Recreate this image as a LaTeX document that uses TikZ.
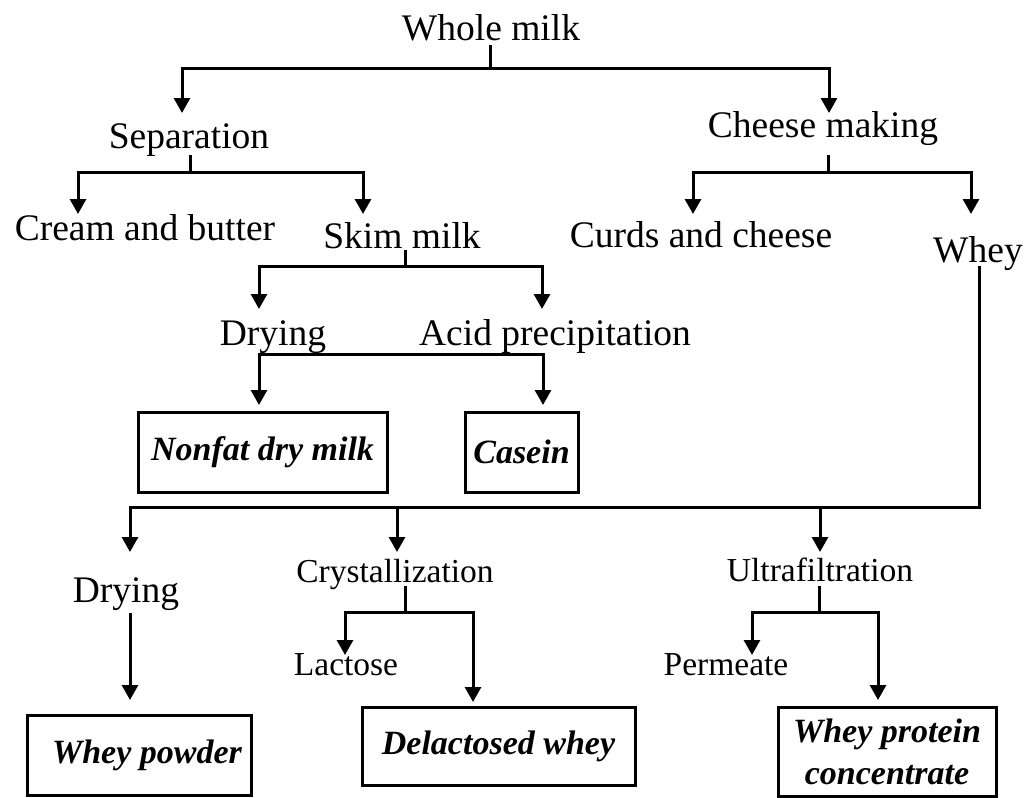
\documentclass[tikz,border=0pt]{standalone}
\usepackage{fontspec}
\setmainfont{Liberation Serif}
\usetikzlibrary{arrows.meta}
\begin{document}
\begin{tikzpicture}[x=1pt,y=-1pt,
  ln/.style={line width=3pt,line join=miter,line cap=rect},
  arr/.style={line width=3pt,-{Triangle[length=15pt,width=16pt]}},
  big/.style={inner sep=0pt,anchor=base,font=\fontsize{37.5}{40}\selectfont},
  small/.style={inner sep=0pt,anchor=base,font=\fontsize{33.5}{36}\selectfont},
  prod/.style={draw,line width=3pt,inner sep=0pt,align=center,
    font=\fontsize{34}{42}\selectfont\bfseries\itshape}]
\useasboundingbox (0,0) rectangle (1034,798);
% text nodes
\node[big] (wm) at (491,40) {Whole milk};
\node[big] (sep) at (189,148) {Separation};
\node[big] (chm) at (823,137) {Cheese making};
\node[big] (crb) at (145,240) {Cream and butter};
\node[big] (skm) at (402,248) {Skim milk};
\node[big] (crd) at (701,247) {Curds and cheese};
\node[big] (why) at (978,262) {Whey};
\node[big] (dry1) at (273,345) {Drying};
\node[big] (acid) at (555,345) {Acid precipitation};
\node[big] (dry2) at (126,602) {Drying};
\node[small] (cry) at (395,582) {Crystallization};
\node[small] (lac) at (346,675) {Lactose};
\node[small] (ult) at (820,581) {Ultrafiltration};
\node[small] (per) at (726,675) {Permeate};
% product boxes
\node[prod,minimum width=249pt,minimum height=80pt] (nfd) at (262.5,452) {Nonfat dry milk};
\node[prod,minimum width=113pt,minimum height=80pt] (cas) at (521.5,452) {Casein};
\node[prod,minimum width=224pt,minimum height=80pt] (wpw) at (139,755) {\hspace*{16pt}Whey powder};
\node[prod,minimum width=273pt,minimum height=78pt] (dlw) at (498.5,746) {Delactosed whey};
\node[prod,minimum width=218pt,minimum height=89pt] (wpc) at (887,751.5) {Whey protein\\ concentrate};
% junction coordinates
\coordinate (wmJ) at (490,68);
\coordinate (sepJ) at (190,172);
\coordinate (chmJ) at (828,172);
\coordinate (skmJ) at (405,266);
\coordinate (dryJ) at (401,354);
\coordinate (whyJ) at (979,507);
\coordinate (cryJ) at (405,612);
\coordinate (ultJ) at (819,612);
% whole milk
\draw[ln] (490,46) -- (wmJ);
\draw[ln] (182,68) -- (829,68);
\draw[arr] (182,68) -- (182,113);
\draw[arr] (829,68) -- (829,113);
% separation
\draw[ln] (190,156) -- (sepJ);
\draw[ln] (78,172) -- (363,172);
\draw[arr] (78,172) -- (78,214);
\draw[arr] (363,172) -- (363,214);
% cheese making
\draw[ln] (828,156) -- (chmJ);
\draw[ln] (693,172) -- (971,172);
\draw[arr] (693,172) -- (693,214);
\draw[arr] (971,172) -- (971,214);
% skim milk
\draw[ln] (405,251) -- (skmJ);
\draw[ln] (259,266) -- (542,266);
\draw[arr] (259,266) -- (259,309);
\draw[arr] (542,266) -- (542,309);
% drying / acid
\draw[ln] (259,354) -- (543,354);
\draw[arr] (259,354) -- (259,405);
\draw[arr] (543,354) -- (543,405);
% whey
\draw[ln] (979,267) -- (whyJ) -- (130,507);
\draw[arr] (130,507) -- (130,552);
\draw[arr] (397,507) -- (397,552);
\draw[arr] (820,507) -- (820,552);
% lower drying
\draw[arr] (130,613) -- (130,700);
% crystallization
\draw[ln] (405,587) -- (cryJ);
\draw[ln] (345,612) -- (473,612);
\draw[arr] (345,612) -- (345,655);
\draw[arr] (473,612) -- (473,702);
% ultrafiltration
\draw[ln] (819,587) -- (ultJ);
\draw[ln] (752,612) -- (878,612);
\draw[arr] (752,612) -- (752,655);
\draw[arr] (878,612) -- (878,700);
\end{tikzpicture}
\end{document}
